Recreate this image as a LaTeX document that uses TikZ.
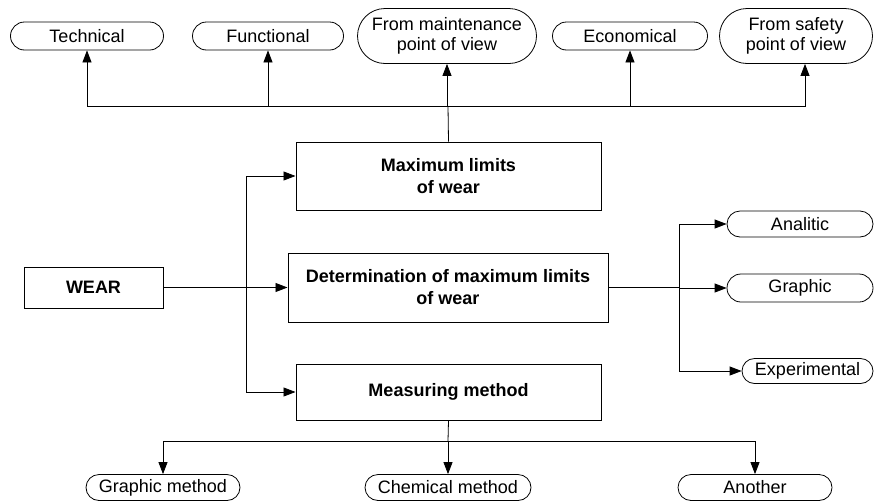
\documentclass[tikz,border=0pt]{standalone}
\usepackage{fontspec}
\setmainfont{Liberation Sans}
\usetikzlibrary{arrows.meta,shapes.misc}

\begin{document}
\begin{tikzpicture}[x=1pt, y=-1pt,
	box/.style={draw, line width=1pt, inner sep=0pt, align=center, font=\bfseries\fontsize{18}{22}\selectfont},
	oval/.style={draw, rounded rectangle, line width=0.8pt, inner sep=0pt, align=center, font=\fontsize{18}{20}\selectfont},
	arr/.style={-{Triangle[length=12pt,width=9pt]}, line width=0.8pt}]
	\useasboundingbox (0,0) rectangle (875,501);

	% top row
	\node[oval, minimum width=153, minimum height=28] (tech) at (87,36) {Technical};
	\node[oval, minimum width=151, minimum height=28] (func) at (268,36) {Functional};
	\node[oval, minimum width=179, minimum height=55] (maint) at (447,36) {From maintenance\\point of view};
	\node[oval, minimum width=155, minimum height=28] (econ) at (630,36) {Economical};
	\node[oval, minimum width=153, minimum height=55] (safety) at (796,36) {From safety\\point of view};

	% main boxes
	\node[box, minimum width=305, minimum height=68] (maxlim) at (448.5,176) {Maximum limits\\of wear};
	\node[box, minimum width=139, minimum height=41] (wear) at (93.5,287.5) {WEAR};
	\node[box, minimum width=320, minimum height=69] (determ) at (448,287.5) {Determination of maximum limits\\of wear};
	\node[box, minimum width=305, minimum height=56] (meas) at (448.5,392) {Measuring method};

	% right column
	\node[oval, minimum width=146, minimum height=26] (anal) at (800,224) {Analitic};
	\node[oval, minimum width=146, minimum height=28] (graph) at (800,288) {Graphic};
	\node[oval, minimum width=131, minimum height=25] (exper) at (807.5,371) {Experimental};

	% bottom row
	\node[oval, minimum width=154, minimum height=26] (gmeth) at (163,487.5) {Graphic method};
	\node[oval, minimum width=166, minimum height=26] (cmeth) at (448,487.5) {Chemical method};
	\node[oval, minimum width=154, minimum height=26] (other) at (755,487.5) {Another};

	% connectors
	\coordinate (topbus) at (448,106);
	\draw[line width=0.8pt] (maxlim.north) -- (topbus);
	\foreach \n in {tech, func, maint, econ}
	{
		\draw[arr] (topbus) -| (\n.south);
	}
	\draw[arr] (topbus) -| ([xshift=9]safety.south);

	\draw[arr] (wear.east) -- (determ.west);
	\coordinate (split) at (246,287.5);
	\draw[arr] (split) |- (maxlim.west);
	\draw[arr] (split) |- (meas.west);

	\coordinate (rsplit) at (679,287.5);
	\draw[line width=0.8pt] (determ.east) -- (rsplit);
	\foreach \n in {anal, graph, exper}
	{
		\draw[arr] (rsplit) |- (\n.west);
	}

	\coordinate (botbus) at (448,441);
	\draw[line width=0.8pt] (meas.south) -- (botbus);
	\foreach \n in {gmeth, cmeth, other}
	{
		\draw[arr] (botbus) -| (\n.north);
	}

\end{tikzpicture}
\end{document}
